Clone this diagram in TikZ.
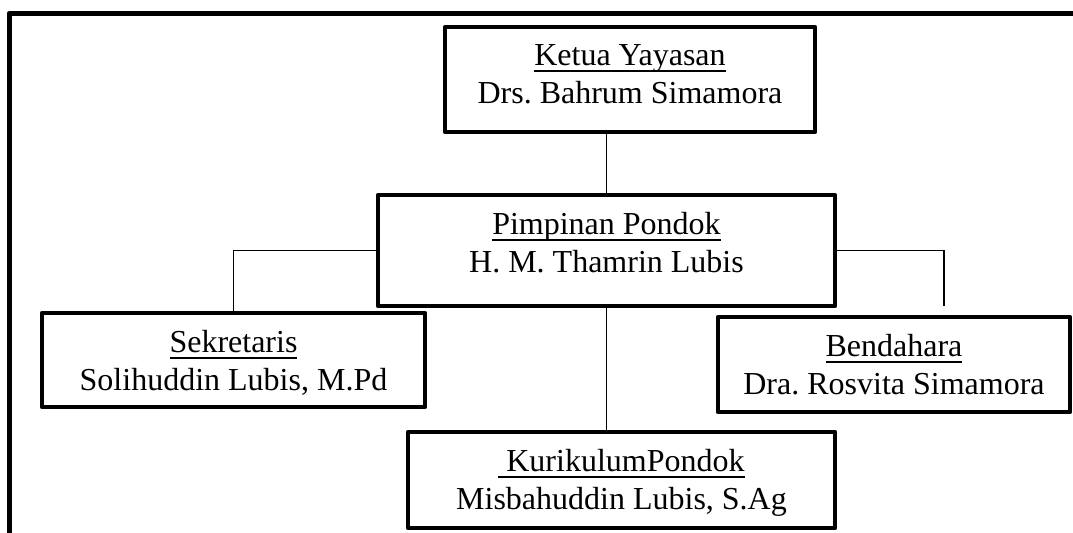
\documentclass[tikz,border=0pt]{standalone}
\usepackage{fontspec}
\setmainfont{Liberation Serif}
\frenchspacing
\newsavebox\titlebox
\newcommand{\utitle}[1]{\sbox\titlebox{#1}\rlap{\rule[-3.5pt]{\wd\titlebox}{1pt}}\usebox\titlebox}
\begin{document}
\begin{tikzpicture}[x=0.5pt,y=-0.5pt,
    box/.style 2 args={draw,line width=2.25pt,line join=round,inner sep=0pt,minimum width=#1*0.5pt,minimum height=#2*0.5pt},
    txt/.style={anchor=north,yshift=-9.5pt,align=center,inner sep=0pt,font=\fontsize{16pt}{19pt}\selectfont},
    link/.style={draw,line width=0.6pt},
    frame/.style={draw,line width=2.5pt,line join=round}]
    \useasboundingbox (0,0) rectangle (1073,533);
    \draw[frame] (9,533) -- (9,13.5) -- (1073,13.5);
    % boxes
    \node[box={370}{105}](ketua) at (630,79.5) {};
    \node[box={457}{111}](pimpinan) at (606.5,250.5) {};
    \node[box={383}{94}](sekretaris) at (233.5,360) {};
    \node[box={352}{95}](bendahara) at (894,364.5) {};
    \node[box={427}{96}](kurikulum) at (621.5,480) {};
    % texts
    \node[txt](ketuatext) at (ketua.north) {\utitle{Ketua Yayasan}\\Drs. Bahrum Simamora};
    \node[txt](pimpinantext) at (pimpinan.north) {\utitle{Pimpinan Pondok}\\H. M. Thamrin Lubis};
    \node[txt](sekretaristext) at (sekretaris.north) {\utitle{Sekretaris}\\Solihuddin Lubis, M.Pd};
    \node[txt](bendaharatext) at (bendahara.north) {\utitle{Bendahara}\\Dra. Rosvita Simamora};
    \node[txt](kurikulumtext) at (kurikulum.north) {\utitle{\ KurikulumPondok}\\Misbahuddin Lubis, S.Ag};
    % lines
    \coordinate (bendtop) at (944,306);
    \draw[link](ketua.south -| pimpinan.north) -- (pimpinan.north);
    \draw[link](pimpinan.west) -| (sekretaris.north);
    \draw[link](pimpinan.east) -| (bendtop);
    \draw[link](pimpinan.south) -- (pimpinan.south |- kurikulum.north);
\end{tikzpicture}
\end{document}
